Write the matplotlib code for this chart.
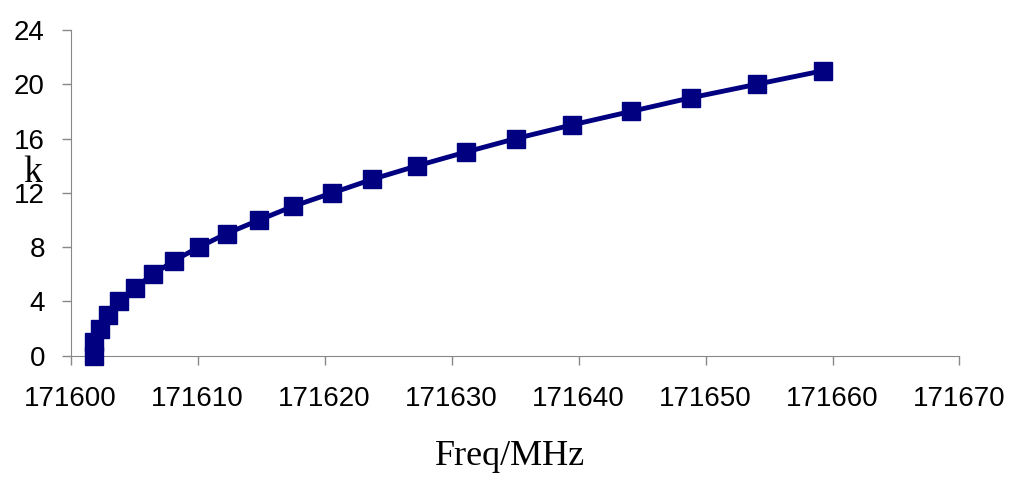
import matplotlib
matplotlib.use("Agg")
import matplotlib.pyplot as plt

# k index and measured frequency (MHz)
k = [0, 1, 2, 3, 4, 5, 6, 7, 8, 9, 10, 11, 12, 13, 14, 15, 16, 17, 18, 19, 20, 21]
freq = [171601.8, 171601.85, 171602.3, 171602.96, 171603.83, 171605.06, 171606.5,
        171608.13, 171610.1, 171612.28, 171614.85, 171617.48, 171620.62, 171623.76,
        171627.31, 171631.1, 171635.06, 171639.45, 171644.13, 171648.82, 171654.02,
        171659.26]

x_ticks = [171600, 171610, 171620, 171630, 171640, 171650, 171660, 171670]
y_ticks = [0, 4, 8, 12, 16, 20, 24]

navy = "#000080"
axis_gray = "#888888"

fig = plt.figure(figsize=(10.24, 4.92), dpi=100)
ax = fig.add_axes([0.069, 0.277, 0.868, 0.662])

ax.plot(freq, k, color=navy, linewidth=3.5, marker="s", markersize=13,
        markerfacecolor=navy, markeredgecolor=navy, solid_joinstyle="round",
        clip_on=False, zorder=3)

ax.set_xlim(171600, 171670)
ax.set_ylim(0, 24)
ax.set_xticks(x_ticks)
ax.set_yticks(y_ticks)
ax.set_xticklabels([str(v) for v in x_ticks])

ax.spines["right"].set_visible(False)
ax.spines["top"].set_visible(False)
ax.spines["left"].set_color(axis_gray)
ax.spines["bottom"].set_color(axis_gray)

ax.tick_params(axis="both", direction="out", length=6.5, width=1, color=axis_gray,
               labelsize=20, labelcolor="black")
ax.tick_params(axis="x", pad=15)
ax.tick_params(axis="y", pad=12)
for label in ax.get_xticklabels() + ax.get_yticklabels():
    label.set_fontfamily("Liberation Sans")

# y label sits horizontally between the 12 and 16 ticks, as in the original
fig.text(0.032, 0.63, "k", fontsize=27, family="Liberation Serif",
         ha="center", va="baseline")
fig.text(0.498, 0.072, "Freq/MHz", fontsize=26, family="Liberation Serif",
         ha="center", va="center")

fig.savefig("out.png", dpi=100)
